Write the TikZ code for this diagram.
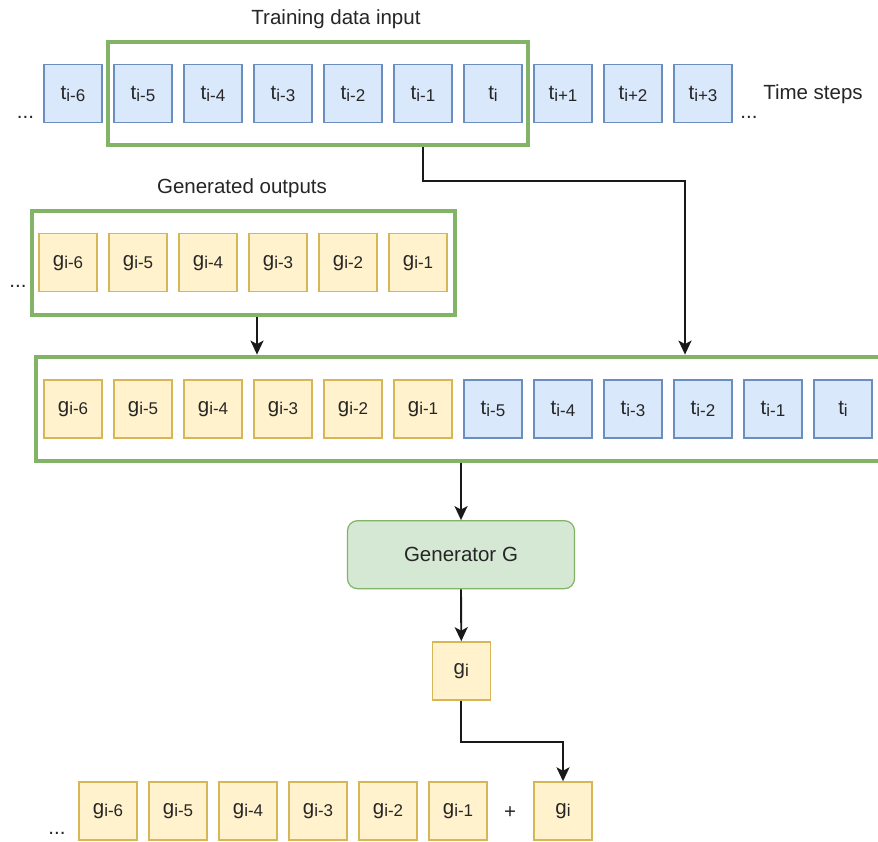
\documentclass[tikz,border=0pt]{standalone}
\usepackage{fontspec}
\setmainfont{Liberation Sans}
\definecolor{StepBlue}{HTML}{DAE8FC}
\definecolor{StepBlueLine}{HTML}{6C8EBF}
\definecolor{GenYellow}{HTML}{FFF2CC}
\definecolor{GenYellowLine}{HTML}{D6B656}
\definecolor{ModelGreen}{HTML}{D5E8D4}
\definecolor{ModelGreenLine}{HTML}{82B366}
\usetikzlibrary{
    arrows.meta,
    fit,
}
\newcommand{\lowtxt}[1]{\raisebox{-2pt}{\fontsize{17}{17}\selectfont #1}}

\begin{document}
\begin{tikzpicture}[x=1pt, y=-1pt,
        every node/.style={font=\fontsize{20.5}{24}\selectfont, text=black!85},
        tbox/.style={draw=StepBlueLine, fill=StepBlue, line width=1.4pt, minimum size=58pt, inner sep=0pt},
        gbox/.style={draw=GenYellowLine, fill=GenYellow, line width=1.4pt, minimum size=58pt, inner sep=0pt},
        selframe/.style={draw=ModelGreenLine, line width=4pt},
        arr/.style={line width=1.9pt, black!90, -{Stealth[length=14pt, width=13pt, inset=3.5pt]}},
    ]
        \path[use as bounding box, fill=white] (0,0) rectangle (878,842);

        \foreach \k/\lab in {1/i-6, 2/i-5, 3/i-4, 4/i-3, 5/i-2, 6/i-1, 7/i, 8/i+1, 9/i+2, 10/i+3} {
            \node[tbox] (t\k) at ({3+70*\k},93.8) {t\lowtxt{\lab}};
        }
        \node[selframe, fit=(t2)(t7), inner xsep=5.3pt, inner ysep=21.6pt] (trainframe) {};
        \node[anchor=base] (traincap) at (336,25) {Training data input};
        \node[anchor=base] (stepcap) at (813,100) {Time steps};
        \node[anchor=base] (tdotsl) at (25.5,118.3) {...};
        \node[anchor=base] (tdotsr) at (749,118.3) {...};

        \foreach \k/\lab in {1/i-6, 2/i-5, 3/i-4, 4/i-3, 5/i-2, 6/i-1} {
            \node[gbox] (g\k) at ({-2+70*\k},262.8) {g\lowtxt{\lab}};
        }
        \node[selframe, fit=(g1)(g6), inner xsep=6.8pt, inner ysep=22.3pt] (genframe) {};
        \node[anchor=base] (gencap) at (242,194) {Generated outputs};
        \node[anchor=base] (gdots) at (18,287.5) {...};

        \foreach \k/\lab/\sty/\sym in {1/i-6/gbox/g, 2/i-5/gbox/g, 3/i-4/gbox/g, 4/i-3/gbox/g, 5/i-2/gbox/g, 6/i-1/gbox/g,
                7/i-5/tbox/t, 8/i-4/tbox/t, 9/i-3/tbox/t, 10/i-2/tbox/t, 11/i-1/tbox/t, 12/i/tbox/t} {
            \node[\sty] (m\k) at ({3+70*\k},408.8) {\sym\lowtxt{\lab}};
        }
        \node[selframe, fit=(m1)(m12), inner xsep=7.8pt, inner ysep=22.5pt] (bigframe) {};

        \node[draw=ModelGreenLine, fill=ModelGreen, line width=1.2pt, rounded corners=10pt,
            minimum width=227pt, minimum height=68pt] (gen) at (461,554.7) {Generator G};
        \node[gbox] (gi) at (461.3,670.9) {g\lowtxt{i}};

        \foreach \k/\lab in {1/i-6, 2/i-5, 3/i-4, 4/i-3, 5/i-2, 6/i-1} {
            \node[gbox] (o\k) at ({38+70*\k},811) {g\lowtxt{\lab}};
        }
        \node (plus) at (510,812.7) {+};
        \node[gbox] (onew) at (563,811) {g\lowtxt{i}};
        \node[anchor=base] (odots) at (57,834.5) {...};

        \coordinate (joinT) at (685,0);
        \coordinate (joinG) at (257,0);
        \draw[arr] (trainframe.south -| t6) -- ++(0,34) -| (bigframe.north -| joinT);
        \draw[arr] (genframe.south -| joinG) -- (bigframe.north -| joinG);
        \draw[arr] (bigframe.south -| gen) -- (gen.north);
        \draw[arr] (gen.south) -- (gi.north);
        \draw[arr] (gi.south) -- ++(0,41) -| (onew.north);
    \end{tikzpicture}
\end{document}
